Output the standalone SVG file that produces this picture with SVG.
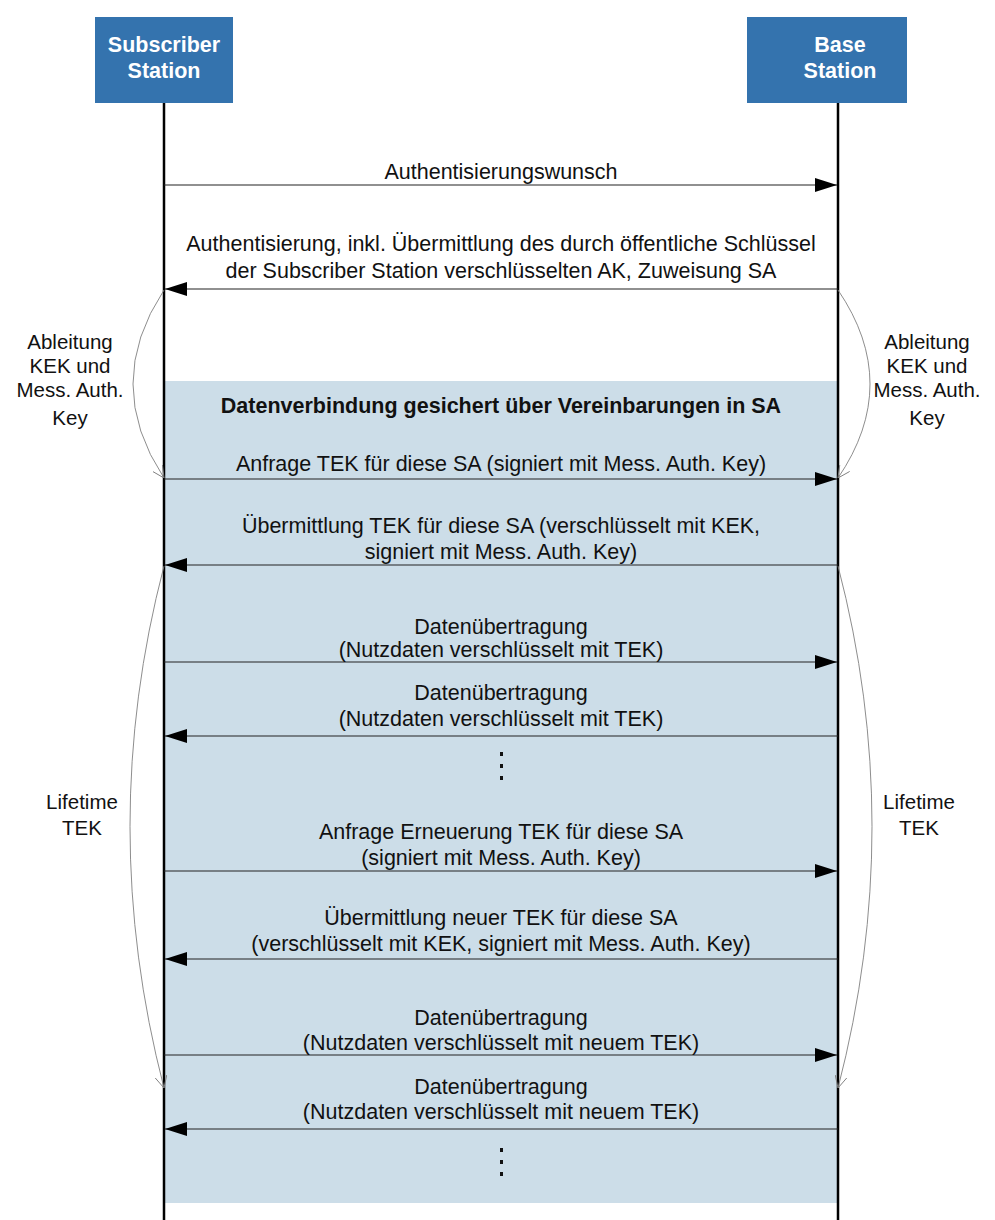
<svg xmlns="http://www.w3.org/2000/svg" width="995" height="1220" viewBox="0 0 995 1220">
  <style>
    .actor { fill: #3473AE; }
    .actor-label { font-family: "Liberation Sans", Arial, sans-serif; font-size: 21.5px; font-weight: bold; fill: #ffffff; text-anchor: middle; }
    .lifeline { stroke: #000000; stroke-width: 2.5; }
    .msg { stroke: #222222; stroke-width: 1.2; fill: none; }
    .label { font-family: "Liberation Sans", Arial, sans-serif; font-size: 21.5px; fill: #111111; text-anchor: middle; }
    .title { font-family: "Liberation Sans", Arial, sans-serif; font-size: 21.5px; font-weight: bold; fill: #111111; text-anchor: middle; }
    .note { font-family: "Liberation Sans", Arial, sans-serif; font-size: 20.5px; fill: #111111; text-anchor: middle; }
    .span { stroke: #808080; stroke-width: 0.9; fill: none; }
    .dot { fill: #111111; }
  </style>
  <defs>
    <marker id="head" viewBox="0 0 22 14" refX="22" refY="7" markerWidth="22" markerHeight="14" markerUnits="userSpaceOnUse" orient="auto">
      <path d="M0,0 L22,7 L0,14 Z" fill="#000000"/>
    </marker>
    <marker id="open" viewBox="0 0 12 12" refX="12" refY="6" markerWidth="12" markerHeight="12" markerUnits="userSpaceOnUse" orient="auto">
      <path d="M0,0 L12,6 L0,12" fill="none" stroke="#808080" stroke-width="0.9"/>
    </marker>
  </defs>

  <!-- secured data connection region -->
  <rect x="164" y="381" width="674" height="822" fill="#CCDDE8"/>

  <!-- participants -->
  <g id="subscriber-station">
    <rect class="actor" x="95" y="17" width="138" height="86"/>
    <text class="actor-label" x="164" y="52">Subscriber</text>
    <text class="actor-label" x="164" y="78">Station</text>
  </g>
  <g id="base-station">
    <rect class="actor" x="747" y="17" width="160" height="86"/>
    <text class="actor-label" x="840" y="52">Base</text>
    <text class="actor-label" x="840" y="78">Station</text>
  </g>

  <g id="lifelines">
    <line class="lifeline" x1="164" y1="103" x2="164" y2="1220"/>
    <line class="lifeline" x1="838" y1="103" x2="838" y2="1220"/>
  </g>

  <!-- messages -->
  <g id="connectors">
    <line class="msg" x1="164" y1="185" x2="837" y2="185" marker-end="url(#head)"/>
    <line class="msg" x1="838" y1="289" x2="165" y2="289" marker-end="url(#head)"/>
    <line class="msg" x1="164" y1="479" x2="837" y2="479" marker-end="url(#head)"/>
    <line class="msg" x1="838" y1="565" x2="165" y2="565" marker-end="url(#head)"/>
    <line class="msg" x1="164" y1="662" x2="837" y2="662" marker-end="url(#head)"/>
    <line class="msg" x1="838" y1="736" x2="165" y2="736" marker-end="url(#head)"/>
    <line class="msg" x1="164" y1="871" x2="837" y2="871" marker-end="url(#head)"/>
    <line class="msg" x1="838" y1="959" x2="165" y2="959" marker-end="url(#head)"/>
    <line class="msg" x1="164" y1="1055" x2="837" y2="1055" marker-end="url(#head)"/>
    <line class="msg" x1="838" y1="1129" x2="165" y2="1129" marker-end="url(#head)"/>

    <!-- key derivation spans -->
    <path class="span" d="M164,290 Q102,384 164,478" marker-end="url(#open)"/>
    <path class="span" d="M838,290 Q902,384 838,478" marker-end="url(#open)"/>
    <!-- TEK lifetime spans -->
    <path class="span" d="M164,566 Q96,826 164,1088" marker-end="url(#open)"/>
    <path class="span" d="M838,566 Q906,826 838,1088" marker-end="url(#open)"/>
  </g>

  <!-- message labels -->
  <g id="labels">
    <text class="label" x="501" y="179">Authentisierungswunsch</text>
    <text class="label" x="501" y="251">Authentisierung, inkl. Übermittlung des durch öffentliche Schlüssel</text>
    <text class="label" x="501" y="278">der Subscriber Station verschlüsselten AK, Zuweisung SA</text>
    <text class="title" x="501" y="413">Datenverbindung gesichert über Vereinbarungen in SA</text>
    <text class="label" x="501" y="471">Anfrage TEK für diese SA (signiert mit Mess. Auth. Key)</text>
    <text class="label" x="501" y="533">Übermittlung TEK für diese SA (verschlüsselt mit KEK,</text>
    <text class="label" x="501" y="559">signiert mit Mess. Auth. Key)</text>
    <text class="label" x="501" y="634">Datenübertragung</text>
    <text class="label" x="501" y="657">(Nutzdaten verschlüsselt mit TEK)</text>
    <text class="label" x="501" y="700">Datenübertragung</text>
    <text class="label" x="501" y="726">(Nutzdaten verschlüsselt mit TEK)</text>
    <text class="label" x="501" y="839">Anfrage Erneuerung TEK für diese SA</text>
    <text class="label" x="501" y="865">(signiert mit Mess. Auth. Key)</text>
    <text class="label" x="501" y="925">Übermittlung neuer TEK für diese SA</text>
    <text class="label" x="501" y="951">(verschlüsselt mit KEK, signiert mit Mess. Auth. Key)</text>
    <text class="label" x="501" y="1025">Datenübertragung</text>
    <text class="label" x="501" y="1050">(Nutzdaten verschlüsselt mit neuem TEK)</text>
    <text class="label" x="501" y="1094">Datenübertragung</text>
    <text class="label" x="501" y="1119">(Nutzdaten verschlüsselt mit neuem TEK)</text>
  </g>

  <!-- continuation marks -->
  <g id="ellipsis-1">
    <rect class="dot" x="500" y="752" width="3" height="4"/>
    <rect class="dot" x="500" y="764" width="3" height="4"/>
    <rect class="dot" x="500" y="776" width="3" height="4"/>
  </g>
  <g id="ellipsis-2">
    <rect class="dot" x="500" y="1148" width="3" height="4"/>
    <rect class="dot" x="500" y="1160" width="3" height="4"/>
    <rect class="dot" x="500" y="1172" width="3" height="4"/>
  </g>

  <!-- side notes -->
  <g id="note-derivation-left">
    <text class="note" x="70" y="349">Ableitung</text>
    <text class="note" x="70" y="373">KEK und</text>
    <text class="note" x="70" y="397">Mess. Auth.</text>
    <text class="note" x="70" y="425">Key</text>
  </g>
  <g id="note-derivation-right">
    <text class="note" x="927" y="349">Ableitung</text>
    <text class="note" x="927" y="373">KEK und</text>
    <text class="note" x="927" y="397">Mess. Auth.</text>
    <text class="note" x="927" y="425">Key</text>
  </g>
  <g id="note-lifetime-left">
    <text class="note" x="82" y="809">Lifetime</text>
    <text class="note" x="82" y="835">TEK</text>
  </g>
  <g id="note-lifetime-right">
    <text class="note" x="919" y="809">Lifetime</text>
    <text class="note" x="919" y="835">TEK</text>
  </g>
</svg>
